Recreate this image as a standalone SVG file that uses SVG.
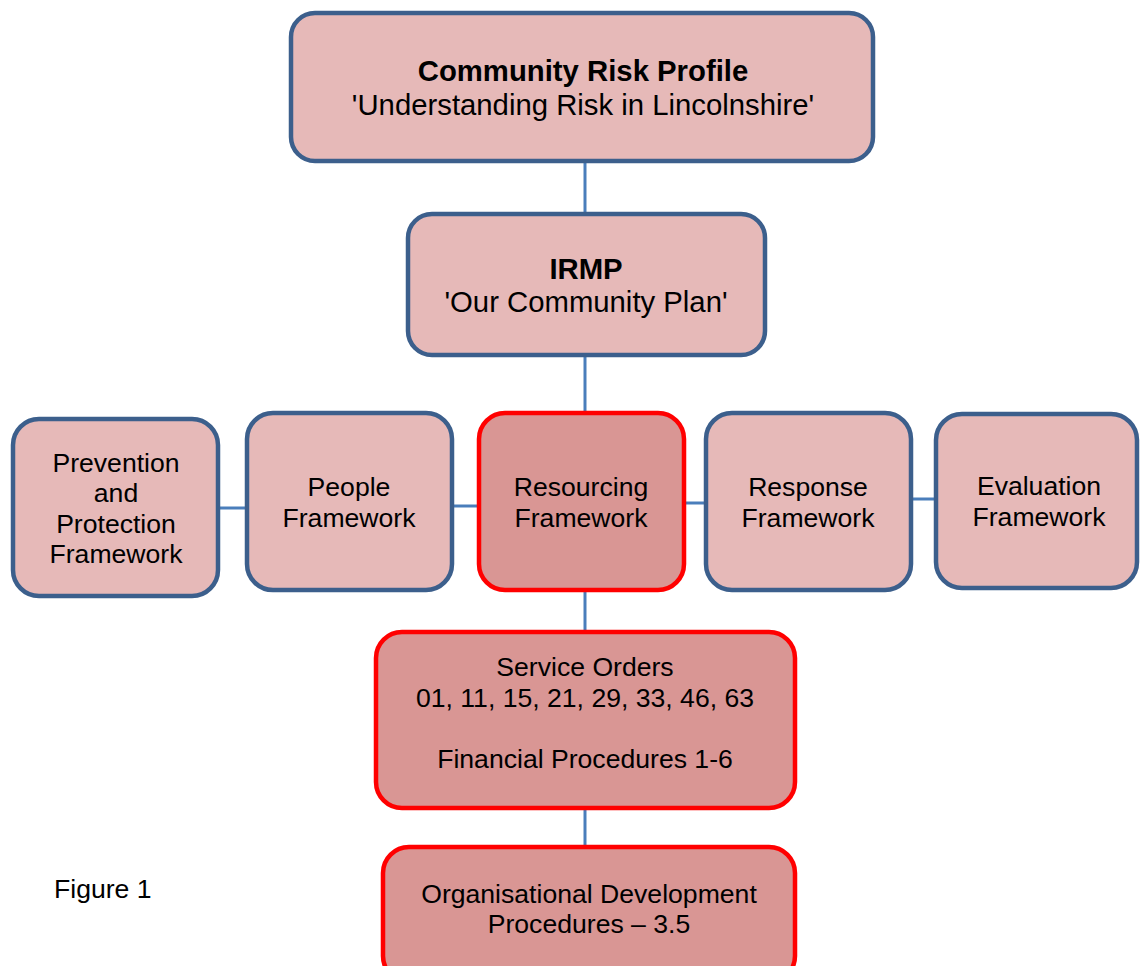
<svg xmlns="http://www.w3.org/2000/svg" width="1140" height="966" viewBox="0 0 1140 966">
<style>
.box{fill:#e6b9b8;stroke:#3c5f8c;stroke-width:4.5}
.hot{fill:#d99694;stroke:#ff0000;stroke-width:4.5}
.con{stroke:#4a7ebb;stroke-width:3;fill:none}
text{font-family:"Liberation Sans",Arial,sans-serif;fill:#000;text-anchor:middle}
.t29{font-size:29.3px}
.t26{font-size:26.6px}
.b{font-weight:bold}
</style>
<rect width="1140" height="966" fill="#ffffff"/>
<g id="connectors">
<line class="con" x1="585" y1="161" x2="585" y2="214"/>
<line class="con" x1="585" y1="355" x2="585" y2="413"/>
<line class="con" x1="585" y1="590" x2="585" y2="632"/>
<line class="con" x1="585" y1="808" x2="585" y2="847"/>
<line class="con" x1="218" y1="508" x2="247" y2="508"/>
<line class="con" x1="452" y1="506" x2="479" y2="506"/>
<line class="con" x1="684" y1="503" x2="706" y2="503"/>
<line class="con" x1="911" y1="499" x2="936" y2="499"/>
</g>
<g id="community-risk-profile">
<rect class="box" x="291" y="13" width="582" height="148" rx="24"/>
<text class="t29 b" x="583" y="81">Community Risk Profile</text>
<text class="t29" x="583" y="115">'Understanding Risk in Lincolnshire'</text>
</g>
<g id="irmp">
<rect class="box" x="408" y="214" width="357" height="141" rx="24"/>
<text class="t29 b" x="586" y="279">IRMP</text>
<text class="t29" x="586" y="312">'Our Community Plan'</text>
</g>
<g id="prevention">
<rect class="box" x="13" y="419" width="205" height="177" rx="26"/>
<text class="t26" x="116" y="472">Prevention</text>
<text class="t26" x="116" y="502">and</text>
<text class="t26" x="116" y="533">Protection</text>
<text class="t26" x="116" y="563">Framework</text>
</g>
<g id="people">
<rect class="box" x="247" y="413" width="205" height="177" rx="26"/>
<text class="t26" x="349" y="496">People</text>
<text class="t26" x="349" y="527">Framework</text>
</g>
<g id="resourcing">
<rect class="hot" x="479" y="413" width="205" height="177" rx="26"/>
<text class="t26" x="581" y="496">Resourcing</text>
<text class="t26" x="581" y="527">Framework</text>
</g>
<g id="response">
<rect class="box" x="706" y="413" width="205" height="177" rx="26"/>
<text class="t26" x="808" y="496">Response</text>
<text class="t26" x="808" y="527">Framework</text>
</g>
<g id="evaluation">
<rect class="box" x="936" y="414" width="201" height="174" rx="26"/>
<text class="t26" x="1039" y="495">Evaluation</text>
<text class="t26" x="1039" y="526">Framework</text>
</g>
<g id="service-orders">
<rect class="hot" x="376" y="632" width="419" height="176" rx="26"/>
<text class="t26" x="585" y="676">Service Orders</text>
<text class="t26" x="585" y="707">01, 11, 15, 21, 29, 33, 46, 63</text>
<text class="t26" x="585" y="768">Financial Procedures 1-6</text>
</g>
<g id="org-dev">
<rect class="hot" x="383" y="847" width="412" height="135" rx="26"/>
<text class="t26" x="589" y="903">Organisational Development</text>
<text class="t26" x="589" y="933">Procedures – 3.5</text>
</g>
<g id="caption">
<text class="t26" x="54" y="898" style="text-anchor:start">Figure 1</text>
</g>
</svg>
